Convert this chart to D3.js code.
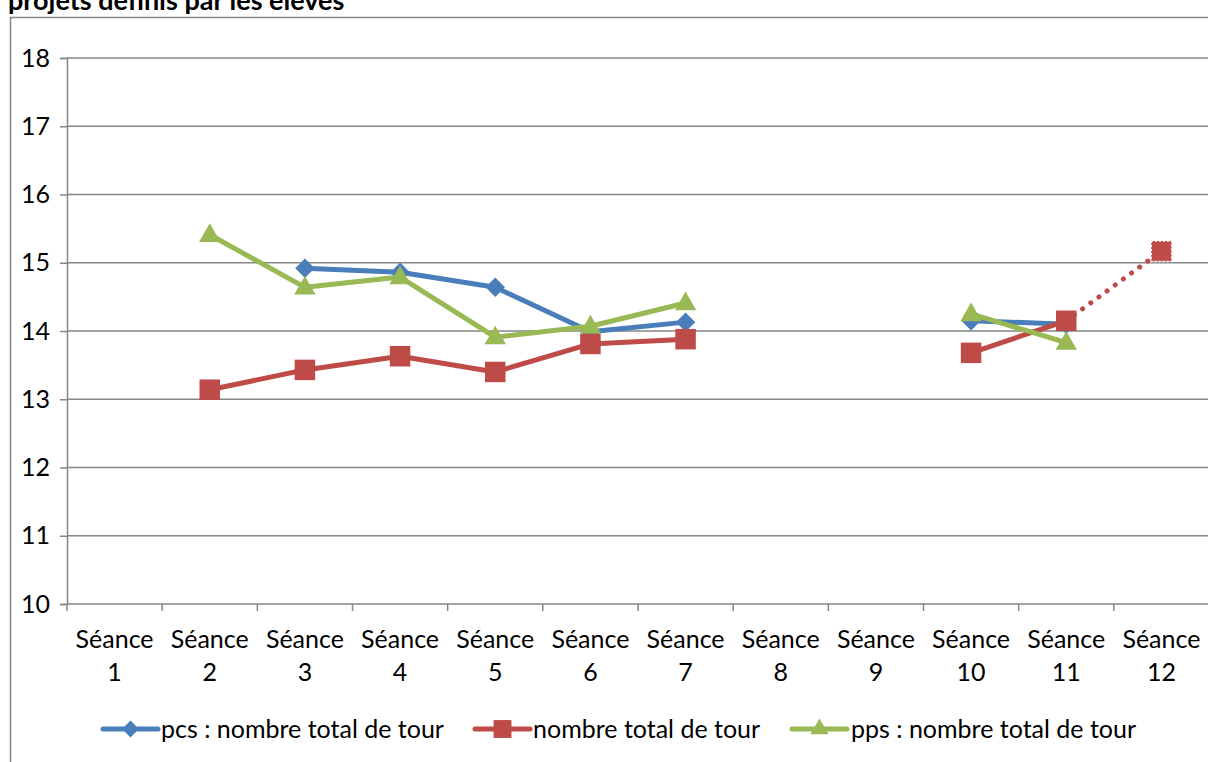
<!DOCTYPE html>
<html>
<head>
<meta charset="utf-8">
<script src="https://cdn.jsdelivr.net/npm/d3@7"></script>
<style>
  body { margin: 0; background: #fff; }
  svg { display: block; font-family: Lato, "Open Sans", sans-serif; }
</style>
</head>
<body>
<div id="chart"></div>
<script>
const categories = ['Séance 1', 'Séance 2', 'Séance 3', 'Séance 4', 'Séance 5', 'Séance 6',
  'Séance 7', 'Séance 8', 'Séance 9', 'Séance 10', 'Séance 11', 'Séance 12'];
const pcsValues = [null, null, 14.92, 14.86, 14.64, 13.99, 14.13, null, null, 14.15, 14.1, null];
const totalValues = [null, 13.14, 13.43, 13.63, 13.4, 13.81, 13.88, null, null, 13.68, 14.15, 15.17];
const ppsValues = [null, 15.41, 14.64, 14.79, 13.91, 14.07, 14.41, null, null, 14.25, 13.83, null];
const yTicks = [10, 11, 12, 13, 14, 15, 16, 17, 18];
const seriesNames = ['pcs : nombre total de tour', 'nombre total de tour', 'pps : nombre total de tour'];
const projectedIndex = 11; // last red point drawn dotted

const width = 1208;
const height = 762;
const margin = { left: 67, right: -1, top: 58, bottom: 158 };
const fontSize = 25;
const lineW = 5;

const svg = d3.select('#chart')
  .append('svg')
  .attr('width', width)
  .attr('height', height);

// chart frame
svg.append('path')
  .attr('d', `M10.5,${height} V17.5 H${width}`)
  .attr('fill', 'none')
  .attr('stroke', '#868686')
  .attr('stroke-width', 1.5);

svg.append('text')
  .attr('x', 8)
  .attr('y', 10)
  .attr('font-weight', 'bold')
  .attr('font-size', 27)
  .attr('fill', '#000')
  .text('projets définis par les élèves');

const xScale = d3.scaleBand()
  .domain(categories)
  .range([margin.left, width - margin.right]);

const yScale = d3.scaleLinear()
  .domain([10, 18])
  .range([height - margin.bottom, margin.top]);

// gridlines
svg.append('g')
  .selectAll('line')
  .data(yTicks.slice(1))
  .enter()
  .append('line')
  .attr('x1', margin.left)
  .attr('x2', width)
  .attr('y1', d => yScale(d))
  .attr('y2', d => yScale(d))
  .attr('stroke', '#868686')
  .attr('stroke-width', 1.5);

// y axis
const yAxis = svg.append('g')
  .attr('transform', `translate(${margin.left},0)`)
  .call(d3.axisLeft(yScale).tickValues(yTicks).tickSize(7).tickPadding(10).tickFormat(d3.format('d')));
yAxis.select('.domain').attr('stroke', '#868686').attr('stroke-width', 1.5);
yAxis.selectAll('.tick line').attr('stroke', '#868686').attr('stroke-width', 1.5);
yAxis.selectAll('.tick text')
  .attr('font-size', fontSize)
  .attr('fill', '#000')
  .attr('font-family', 'Lato, "Open Sans", sans-serif');

// x axis: ticks at category boundaries
const xAxisG = svg.append('g').attr('transform', `translate(0,${yScale(10)})`);
xAxisG.append('line')
  .attr('x1', margin.left).attr('x2', width)
  .attr('stroke', '#868686').attr('stroke-width', 1.5);
xAxisG.selectAll('.bound')
  .data(categories)
  .enter()
  .append('line')
  .attr('class', 'bound')
  .attr('x1', d => xScale(d))
  .attr('x2', d => xScale(d))
  .attr('y1', 0)
  .attr('y2', 7)
  .attr('stroke', '#868686')
  .attr('stroke-width', 1.5);
const xLabels = xAxisG.selectAll('.lbl')
  .data(categories)
  .enter()
  .append('text')
  .attr('class', 'lbl')
  .attr('text-anchor', 'middle')
  .attr('font-size', fontSize)
  .attr('fill', '#000');
xLabels.append('tspan')
  .attr('x', d => xScale(d) + xScale.bandwidth() / 2)
  .attr('y', 44)
  .text(d => d.split(' ')[0]);
xLabels.append('tspan')
  .attr('x', d => xScale(d) + xScale.bandwidth() / 2)
  .attr('y', 77)
  .text(d => d.split(' ')[1]);

const cx = i => xScale(categories[i]) + xScale.bandwidth() / 2;

const series = [
  { name: seriesNames[0], values: pcsValues, color: '#4A7EBB', marker: 'diamond' },
  { name: seriesNames[1], values: totalValues, color: '#BE4B48', marker: 'square' },
  { name: seriesNames[2], values: ppsValues, color: '#98B954', marker: 'triangle' }
];

const symbolFor = m => {
  if (m === 'diamond') return d3.symbol().type(d3.symbolDiamond2).size(240);
  if (m === 'square') return d3.symbol().type(d3.symbolSquare).size(420);
  return d3.symbol().type(d3.symbolTriangle2).size(330);
};

const line = d3.line()
  .defined(d => d.v !== null)
  .x(d => cx(d.i))
  .y(d => yScale(d.v));

series.forEach(s => {
  const pts = s.values.map((v, i) => ({ v, i }));
  const solid = s.marker === 'square'
    ? pts.map(p => (p.i === projectedIndex ? { v: null, i: p.i } : p))
    : pts;
  svg.append('path')
    .datum(solid)
    .attr('d', line)
    .attr('fill', 'none')
    .attr('stroke', s.color)
    .attr('stroke-width', lineW)
    .attr('stroke-linejoin', 'round');

  if (s.marker === 'square' && s.values[projectedIndex] !== null) {
    svg.append('path')
      .datum([pts[projectedIndex - 1], pts[projectedIndex]])
      .attr('d', line)
      .attr('fill', 'none')
      .attr('stroke', s.color)
      .attr('stroke-width', lineW)
      .attr('stroke-linecap', 'round')
      .attr('stroke-dasharray', '0.1 10');
  }

  const sym = symbolFor(s.marker);
  svg.append('g')
    .selectAll('path')
    .data(pts.filter(p => p.v !== null))
    .enter()
    .append('path')
    .attr('d', sym)
    .attr('transform', p => `translate(${cx(p.i)},${yScale(p.v) + (s.marker === 'triangle' ? 1 : 0)})`)
    .attr('fill', s.color)
    .attr('stroke', p => (s.marker === 'square' && p.i === projectedIndex) ? '#fff' : 'none')
    .attr('stroke-width', 1.5)
    .attr('stroke-dasharray', '2 2');
});

// legend
const legendItems = [
  { x: 103, w: 55, textX: 161 },
  { x: 475, w: 55, textX: 533 },
  { x: 792, w: 55, textX: 851 }
];
const legendY = 729;
series.forEach((s, k) => {
  const it = legendItems[k];
  const g = svg.append('g');
  g.append('line')
    .attr('x1', it.x).attr('x2', it.x + it.w)
    .attr('y1', legendY).attr('y2', legendY)
    .attr('stroke', s.color)
    .attr('stroke-width', lineW)
    .attr('stroke-linecap', 'round');
  const legSym = s.marker === 'diamond'
    ? d3.symbol().type(d3.symbolDiamond2).size(180)
    : s.marker === 'square'
      ? d3.symbol().type(d3.symbolSquare).size(320)
      : d3.symbol().type(d3.symbolTriangle2).size(240);
  g.append('path')
    .attr('d', legSym)
    .attr('transform', `translate(${it.x + it.w / 2},${legendY})`)
    .attr('fill', s.color);
  g.append('text')
    .attr('x', it.textX)
    .attr('y', legendY + 9)
    .attr('font-size', fontSize)
    .attr('fill', '#000')
    .text(s.name);
});
</script>
</body>
</html>
